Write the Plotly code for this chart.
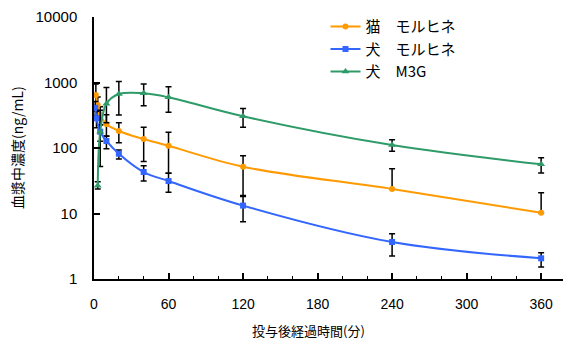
import plotly.graph_objects as go

# ---- data ----
cat_t = [1.5, 3, 5, 10, 20, 40, 60, 120, 240, 360]
cat_v = [645, 453, 327, 232, 182, 137, 108, 51.8, 23.7, 10.3]
cat_up = [300, 150, 100, 90, 61, 70, 66, 24.5, 24.6, 10.5]
cat_dn = [200, 150, 100, 80, 62, 75, 67, 33, 0, 0]

dog_t = [1, 2, 5, 10, 20, 40, 60, 120, 240, 360]
dog_v = [412, 284, 177, 128, 81.8, 43, 31.3, 13.2, 3.67, 2.07]
dog_up = [100, 80, 50, 23, 11.4, 10.7, 9.8, 4.9, 1.25, 0.45]
dog_dn = [100, 80, 50, 31, 13.8, 11.7, 10.2, 5.7, 1.43, 0.55]

m3g_t = [3, 5, 10, 20, 40, 60, 120, 240, 360]
m3g_v = [26.6, 177, 474, 667, 684, 594, 305, 111, 56.4]
m3g_up = [4, 200, 363, 373, 264, 266, 97, 23, 14.7]
m3g_dn = [3, 125, 230, 348, 242, 244, 98, 22, 14.9]

x_ticks = [0, 60, 120, 180, 240, 300, 360]
y_ticks = [1, 10, 100, 1000, 10000]
series_names = ["猫　モルヒネ", "犬　モルヒネ", "犬　M3G"]
colors = ["#FF9A00", "#3366FF", "#2E9B68"]

FONT = "Liberation Sans, Arial, Noto Sans CJK JP, sans-serif"
CJK = "Noto Sans CJK JP, sans-serif"

fig = go.Figure()

def add(t, v, up, dn, name, color, symbol, size):
    fig.add_trace(go.Scatter(
        x=t, y=v, name=name, mode="lines+markers",
        line=dict(color=color, width=2, shape="spline", smoothing=1.0),
        marker=dict(color=color, symbol=symbol, size=size),
        error_y=dict(type="data", symmetric=False, array=up, arrayminus=dn,
                     color="black", thickness=1.5, width=3),
    ))

add(cat_t, cat_v, cat_up, cat_dn, series_names[0], colors[0], "circle", 6)
add(dog_t, dog_v, dog_up, dog_dn, series_names[1], colors[1], "square", 6)
add(m3g_t, m3g_v, m3g_up, m3g_dn, series_names[2], colors[2], "triangle-up", 7)

fig.update_layout(
    width=564, height=341,
    margin=dict(l=94, r=1, t=17, b=62, autoexpand=False),
    paper_bgcolor="white", plot_bgcolor="white",
    font=dict(family=FONT, color="black", size=14),
    showlegend=True,
    legend=dict(x=0.4936, y=1.026, xanchor="left", yanchor="top",
                font=dict(family=CJK, size=15, color="black"),
                bgcolor="rgba(0,0,0,0)", itemwidth=30, tracegroupgap=0),
    xaxis=dict(range=[0, 377.6], tickvals=x_ticks, ticktext=[str(v) for v in x_ticks],
               showline=True, linecolor="black", linewidth=1.5, automargin=False,
               ticks="inside", ticklen=6, tickcolor="black", tickwidth=1.5,
               minor=dict(dtick=20, tick0=0, ticks="inside", ticklen=3, tickcolor="black", tickwidth=1),
               showgrid=False, zeroline=False,
               tickfont=dict(family=FONT, size=14), ticklabelstandoff=11),
    yaxis=dict(type="log", range=[0, 4], tickvals=y_ticks, ticktext=[str(v) for v in y_ticks],
               showline=True, linecolor="black", linewidth=1.5, automargin=False,
               ticks="inside", ticklen=6, tickcolor="black", tickwidth=1.5,
               showgrid=False, zeroline=False,
               tickfont=dict(family=FONT, size=15), ticklabelstandoff=12),
)

fig.add_annotation(text="投与後経過時間(分)", xref="paper", yref="paper",
                   x=(308 - 94) / 469, y=-(330 - 279) / 262, showarrow=False,
                   font=dict(family=CJK, size=13), xanchor="center", yanchor="middle")
fig.add_annotation(text="血漿中濃度(ng/mL)", xref="paper", yref="paper",
                   x=-(94 - 17) / 469, y=(279 - 148) / 262, showarrow=False, textangle=-90,
                   font=dict(family=CJK, size=14), xanchor="center", yanchor="middle")

fig.write_html("out.html", config={"displayModeBar": False},
               post_script="document.body.style.margin='0';document.body.style.overflow='hidden';")
